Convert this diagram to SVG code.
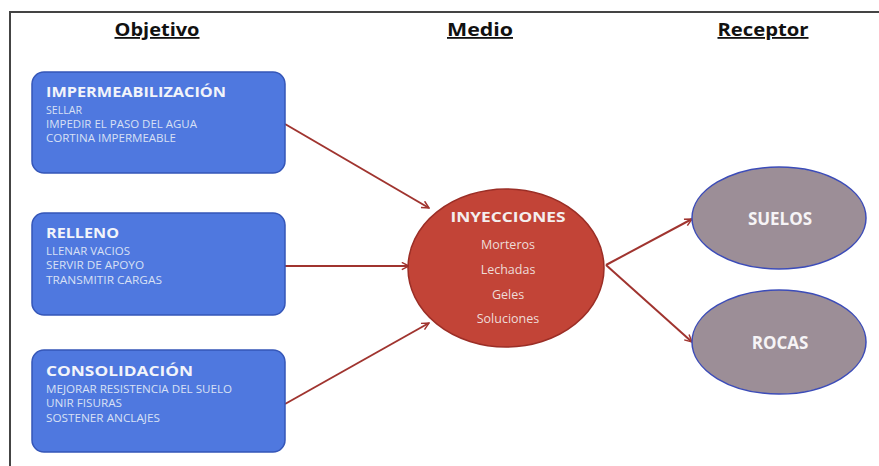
<svg xmlns="http://www.w3.org/2000/svg" width="879" height="466" viewBox="0 0 879 466">
<style>
.hdr{font-family:"Open Sans","Liberation Sans",sans-serif;font-weight:bold;font-size:18px;fill:#111;text-decoration:underline}
.box{fill:#4f78df;stroke:#3556b8;stroke-width:1.5}
.bt{font-family:"Open Sans","Liberation Sans",sans-serif;font-weight:bold;font-size:14px;fill:#f2f4fa}
.bs{font-family:"Open Sans","Liberation Sans",sans-serif;font-size:10px;fill:#d8e0f5}
.red{fill:#c24437;stroke:#9b2e26;stroke-width:1.5}
.rt{font-family:"Open Sans","Liberation Sans",sans-serif;font-weight:bold;font-size:15px;fill:#f4eeee;text-anchor:middle}
.rs{font-family:"Open Sans","Liberation Sans",sans-serif;font-size:12.5px;fill:#eedcd8;text-anchor:middle}
.gray{fill:#9c8e97;stroke:#3c4cb8;stroke-width:1.5}
.gt{font-family:"Open Sans","Liberation Sans",sans-serif;font-weight:bold;font-size:17px;fill:#f6f4f6;text-anchor:middle}
.conn line{stroke:#a0342f;stroke-width:2;fill:none;marker-end:url(#ah)}
</style>
<defs>
<marker id="ah" viewBox="0 0 10 10" refX="9" refY="5" markerWidth="9" markerHeight="9" orient="auto" markerUnits="userSpaceOnUse">
<path d="M1,1 L9,5 L1,9" fill="none" stroke="#a0342f" stroke-width="1.6"/>
</marker>
</defs>
<rect width="879" height="466" fill="#fff"/>
<path d="M10,466 L10,12 L879,12" fill="none" stroke="#444" stroke-width="2"/>
<g id="headers">
<text class="hdr" x="157" y="36" text-anchor="middle" textLength="85" lengthAdjust="spacingAndGlyphs">Objetivo</text>
<text class="hdr" x="480" y="36" text-anchor="middle" textLength="66" lengthAdjust="spacingAndGlyphs">Medio</text>
<text class="hdr" x="763" y="36" text-anchor="middle" textLength="91" lengthAdjust="spacingAndGlyphs">Receptor</text>
</g>
<g class="conn" id="connectors">
<line x1="285" y1="124" x2="429" y2="208"/>
<line x1="285" y1="266" x2="409" y2="266"/>
<line x1="285" y1="404" x2="429" y2="323"/>
<line x1="606" y1="265" x2="692" y2="219"/>
<line x1="606" y1="265" x2="692" y2="342"/>
</g>
<g id="impermeabilizacion">
<rect class="box" x="32" y="72" width="253" height="101" rx="12"/>
<text class="bt" x="46" y="97" textLength="180" lengthAdjust="spacingAndGlyphs">IMPERMEABILIZACIÓN</text>
<text class="bs" x="46" y="114" textLength="36" lengthAdjust="spacingAndGlyphs">SELLAR</text>
<text class="bs" x="46" y="128" textLength="151" lengthAdjust="spacingAndGlyphs">IMPEDIR EL PASO DEL AGUA</text>
<text class="bs" x="46" y="142" textLength="130" lengthAdjust="spacingAndGlyphs">CORTINA IMPERMEABLE</text>
</g>
<g id="relleno">
<rect class="box" x="32" y="213" width="253" height="102" rx="12"/>
<text class="bt" x="46" y="238" textLength="73" lengthAdjust="spacingAndGlyphs">RELLENO</text>
<text class="bs" x="46" y="255" textLength="84" lengthAdjust="spacingAndGlyphs">LLENAR VACIOS</text>
<text class="bs" x="46" y="269" textLength="98" lengthAdjust="spacingAndGlyphs">SERVIR DE APOYO</text>
<text class="bs" x="46" y="284" textLength="116" lengthAdjust="spacingAndGlyphs">TRANSMITIR CARGAS</text>
</g>
<g id="consolidacion">
<rect class="box" x="32" y="350" width="253" height="102" rx="12"/>
<text class="bt" x="46" y="376" textLength="147" lengthAdjust="spacingAndGlyphs">CONSOLIDACIÓN</text>
<text class="bs" x="46" y="393" textLength="186" lengthAdjust="spacingAndGlyphs">MEJORAR RESISTENCIA DEL SUELO</text>
<text class="bs" x="46" y="407" textLength="76" lengthAdjust="spacingAndGlyphs">UNIR FISURAS</text>
<text class="bs" x="46" y="422" textLength="114" lengthAdjust="spacingAndGlyphs">SOSTENER ANCLAJES</text>
</g>
<g id="inyecciones">
<ellipse class="red" cx="506" cy="268" rx="98" ry="79"/>
<text class="rt" x="508" y="222" textLength="115" lengthAdjust="spacingAndGlyphs">INYECCIONES</text>
<text class="rs" x="508" y="249">Morteros</text>
<text class="rs" x="508" y="274">Lechadas</text>
<text class="rs" x="508" y="299">Geles</text>
<text class="rs" x="508" y="323">Soluciones</text>
</g>
<g id="suelos">
<ellipse class="gray" cx="779" cy="218" rx="87" ry="51"/>
<text class="gt" x="780" y="225">SUELOS</text>
</g>
<g id="rocas">
<ellipse class="gray" cx="779" cy="342" rx="87" ry="52"/>
<text class="gt" x="780" y="349">ROCAS</text>
</g>
</svg>
